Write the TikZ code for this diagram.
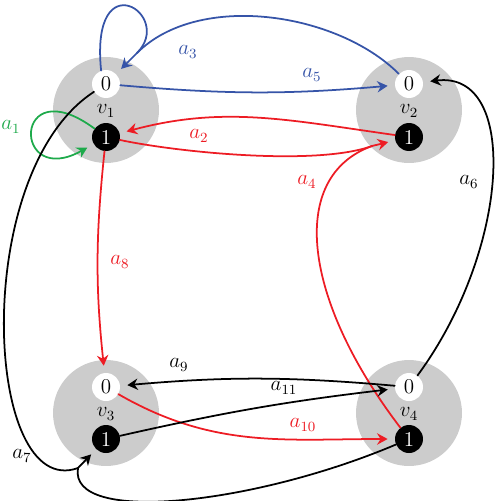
\documentclass[tikz,border=0pt]{standalone}
\usepackage{tikz}
\usepackage{xcolor}
\usepackage{amsmath,amssymb}
\usetikzlibrary{arrows.meta}
\definecolor{arcBlue}{RGB}{54,84,168}
\definecolor{arcRed}{RGB}{237,28,36}
\definecolor{arcGreen}{RGB}{30,170,75}
\definecolor{vertGray}{RGB}{204,204,204}

\begin{document}
\begin{tikzpicture}[x=0.02cm,y=0.02cm,
  vertex/.style={circle,fill=vertGray,minimum size=2.12cm,inner sep=0pt},
  portZero/.style={circle,fill=white,minimum size=0.56cm,inner sep=0pt,font=\large},
  portOne/.style={circle,fill=black,text=white,minimum size=0.56cm,inner sep=0pt,font=\large},
  tailLine/.style={line width=1pt,line cap=round},
  arrowArc/.style={tailLine,-{Stealth[length=6pt,width=6.5pt,inset=2pt]},shorten >=4pt},
  lbl/.style={font=\large,inner sep=1pt}]
\useasboundingbox (0,0) rectangle (498,-501);
% vertices
\node[vertex] (v1) at (106,-110) {};
\node[vertex] (v2) at (409,-110) {};
\node[vertex] (v3) at (106,-413) {};
\node[vertex] (v4) at (409,-413) {};
\node[lbl] (lv1) at (106,-111) {$v_1$};
\node[lbl] (lv2) at (409,-111) {$v_2$};
\node[lbl] (lv3) at (106,-414) {$v_3$};
\node[lbl] (lv4) at (409,-414) {$v_4$};
% ports
\node[portZero] (v1z) at (106,-84) {0};
\node[portOne] (v1o) at (106,-137) {1};
\node[portZero] (v2z) at (409,-84) {0};
\node[portOne] (v2o) at (409,-137) {1};
\node[portZero] (v3z) at (106,-387) {0};
\node[portOne] (v3o) at (106,-439) {1};
\node[portZero] (v4z) at (409,-387) {0};
\node[portOne] (v4o) at (409,-439) {1};
% a1
\draw[arrowArc,arcGreen] (v1o) .. controls (12,-68) and (12,-190) .. (v1o);
% a2
\draw[arrowArc,arcRed] (v2o) to[out=172,in=15] (v1o);
% a3, two tails
\coordinate (h3) at (137,-53);
\draw[tailLine,arcBlue] (v1z.110) .. controls (90,40) and (175,-15) .. (h3);
\draw[tailLine,arcBlue] (v2z) to[out=135,in=45,looseness=0.85] (h3);
\draw[arrowArc,arcBlue] (h3) -- (v1z);
% a4, two tails
\coordinate (h4) at (372,-146);
\draw[tailLine,arcRed] (v1o) to[out=-12,in=200,looseness=0.6] (h4);
\draw[tailLine,arcRed] (v4o) .. controls (303,-300) and (287,-177) .. (h4);
\draw[arrowArc,arcRed] (h4) -- (v2o);
% a5
\draw[arrowArc,arcBlue] (v1z) to[out=-5,in=185] (v2z);
% a6
\draw[arrowArc] (v4z) .. controls (510,-250) and (520,-70) .. (v2z);
% a7, two tails
\coordinate (h7) at (78,-468);
\draw[tailLine] (v1z) .. controls (-31,-173) and (-16,-502) .. (h7);
\draw[tailLine] (v4o) .. controls (253,-505) and (68,-525) .. (h7);
\draw[arrowArc] (h7) -- (v3o);
% a8 to a11
\draw[arrowArc,arcRed] (v1o) to[bend right=6] (v3z);
\draw[arrowArc] (v4z) to[bend right=5] (v3z);
\draw[arrowArc,arcRed] (v3z) to[out=-30,in=180] (v4o);
\draw[arrowArc] (v3o) to[bend left=3] (v4z);
% labels
\node[lbl,arcGreen] (la1) at (11,-127) {$a_1$};
\node[lbl,arcRed] (la2) at (199,-136) {$a_2$};
\node[lbl,arcBlue] (la3) at (188,-52) {$a_3$};
\node[lbl,arcRed] (la4) at (307,-182) {$a_4$};
\node[lbl,arcBlue] (la5) at (312,-75) {$a_5$};
\node[lbl] (la6) at (469,-182) {$a_6$};
\node[lbl] (la7) at (22,-456) {$a_7$};
\node[lbl,arcRed] (la8) at (120,-262) {$a_8$};
\node[lbl] (la9) at (179,-365) {$a_9$};
\node[lbl,arcRed] (la10) at (303,-425) {$a_{10}$};
\node[lbl] (la11) at (284,-388) {$a_{11}$};
\end{tikzpicture}
\end{document}
